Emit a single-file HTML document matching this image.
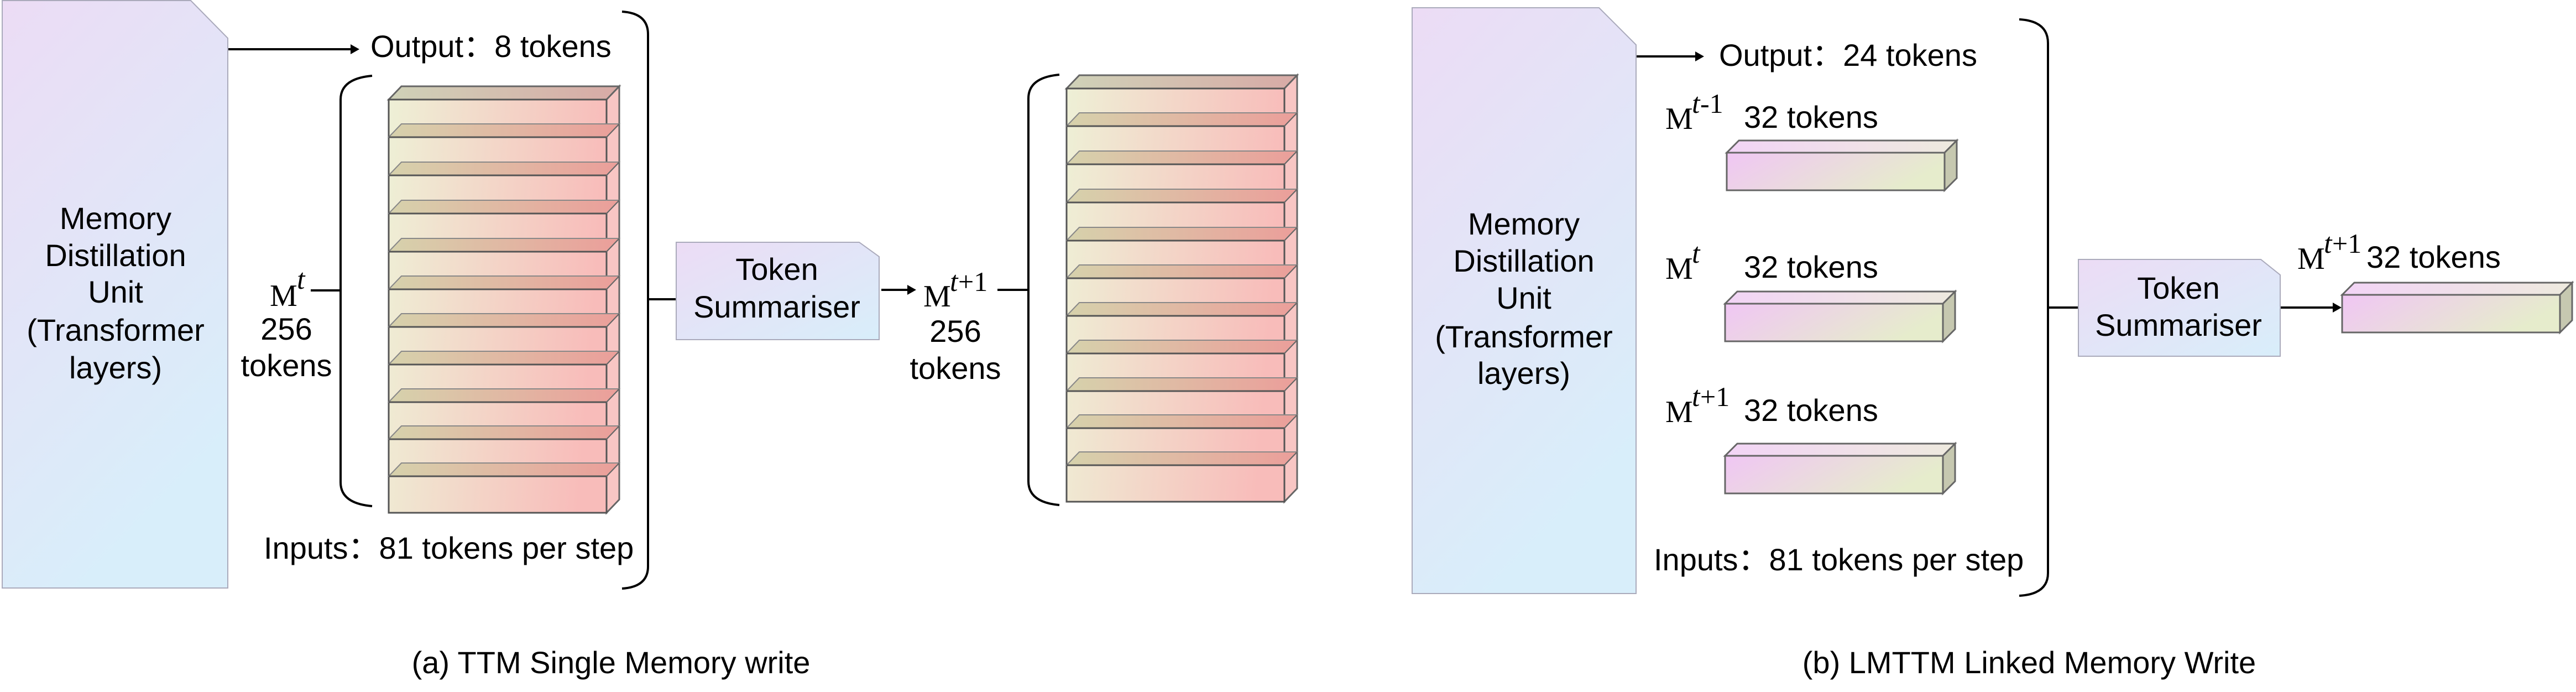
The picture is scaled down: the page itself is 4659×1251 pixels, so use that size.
<!DOCTYPE html>
<html><head><meta charset="utf-8"><style>
html,body{margin:0;padding:0;background:#fff;}
svg{display:block;}
text{font-family:"Liberation Sans","Noto Sans CJK SC",sans-serif;font-size:56px;fill:#000;}
.m{font-family:"Liberation Serif",serif;font-size:56px;}
.s{font-family:"Liberation Serif",serif;font-size:52px;font-style:italic;}
.s2{font-family:"Liberation Serif",serif;font-size:50px;}
</style></head><body>
<svg width="4659" height="1251" viewBox="0 0 4659 1251" xmlns="http://www.w3.org/2000/svg">
<defs>
<linearGradient id="mdu" x1="0" y1="0" x2="0.4" y2="1">
<stop offset="0" stop-color="#ecdcf5"/><stop offset="1" stop-color="#d8eefa"/></linearGradient>
<linearGradient id="ts" x1="0" y1="0" x2="1" y2="1">
<stop offset="0" stop-color="#ecdcf5"/><stop offset="1" stop-color="#d8eefa"/></linearGradient>
<linearGradient id="front" x1="0" y1="0" x2="1" y2="0.15">
<stop offset="0" stop-color="#eef0d6"/><stop offset="1" stop-color="#f8bcba"/></linearGradient>
<linearGradient id="sep" x1="0" y1="0" x2="1" y2="0">
<stop offset="0" stop-color="#d6d2ac"/><stop offset="1" stop-color="#eb9e9a"/></linearGradient>
<linearGradient id="topg" x1="0" y1="0" x2="1" y2="0">
<stop offset="0" stop-color="#cfd2b8"/><stop offset="1" stop-color="#d8aaa6"/></linearGradient>
<linearGradient id="bf" x1="0" y1="0" x2="1" y2="0.3">
<stop offset="0" stop-color="#f0c6f4"/><stop offset="1" stop-color="#e6eccc"/></linearGradient>
<linearGradient id="bt" x1="0" y1="0" x2="1" y2="0">
<stop offset="0" stop-color="#f2d4f6"/><stop offset="1" stop-color="#eeeade"/></linearGradient>
<g id="sp">
<polygon points="0,0 23,-24 417,-24 394,0" fill="url(#sep)" stroke="#888" stroke-width="2"/>
<line x1="0" y1="0" x2="394" y2="0" stroke="#555" stroke-width="3"/>
<line x1="394" y1="0" x2="417" y2="-24" stroke="#666" stroke-width="2"/>
</g>
<g id="stack">
<polygon points="0,0 23,-24 417,-24 394,0" fill="url(#topg)" stroke="#666" stroke-width="3"/>
<polygon points="394,0 417,-24 417,723 394,747" fill="#f8c6c4" stroke="#666" stroke-width="3"/>
<rect x="0" y="0" width="394" height="747" fill="url(#front)" stroke="#555" stroke-width="3"/>
<use href="#sp" y="68"/><use href="#sp" y="137"/><use href="#sp" y="206"/><use href="#sp" y="275"/>
<use href="#sp" y="343"/><use href="#sp" y="411"/><use href="#sp" y="479"/><use href="#sp" y="547"/>
<use href="#sp" y="614"/><use href="#sp" y="681"/>
</g>
<g id="box">
<polygon points="0,0 22,-22 416,-22 394,0" fill="url(#bt)" stroke="#666" stroke-width="3"/>
<polygon points="394,0 416,-22 416,46 394,68" fill="#c6c8b0" stroke="#666" stroke-width="3"/>
<rect x="0" y="0" width="394" height="68" fill="url(#bf)" stroke="#666" stroke-width="3"/>
</g>
</defs>

<!-- (a) -->
<polygon points="4,1 345,1 412,69 412,1063 4,1063" fill="url(#mdu)" stroke="#aab" stroke-width="2"/>
<text x="209" y="414" text-anchor="middle">Memory</text>
<text x="209" y="481" text-anchor="middle">Distillation</text>
<text x="209" y="547" text-anchor="middle">Unit</text>
<text x="209" y="616" text-anchor="middle">(Transformer</text>
<text x="209" y="684" text-anchor="middle">layers)</text>

<line x1="413" y1="89" x2="635" y2="89" stroke="#000" stroke-width="4"/>
<polygon points="650,89 634,80 634,98" fill="#000"/>
<text x="670" y="103">Output：8 tokens</text>

<path d="M1125,21 Q1172,24 1172,62 L1172,1024 Q1172,1061 1125,1064" fill="none" stroke="#000" stroke-width="4"/>
<line x1="1172" y1="541" x2="1223" y2="541" stroke="#000" stroke-width="4"/>

<path d="M673,137 Q616,142 616,180 L616,872 Q616,910 673,915" fill="none" stroke="#000" stroke-width="4"/>
<line x1="562" y1="525" x2="616" y2="525" stroke="#000" stroke-width="4"/>
<text class="m" x="488" y="553">M</text><text class="s" x="537" y="522">t</text>
<text x="518" y="614" text-anchor="middle">256</text>
<text x="518" y="680" text-anchor="middle">tokens</text>

<use href="#stack" x="703" y="180"/>

<text x="477" y="1010">Inputs：81 tokens per step</text>

<polygon points="1223,438 1554,438 1590,464 1590,614 1223,614" fill="url(#ts)" stroke="#aab" stroke-width="2"/>
<text x="1405" y="506" text-anchor="middle">Token</text>
<text x="1405" y="574" text-anchor="middle">Summariser</text>

<line x1="1594" y1="524" x2="1642" y2="524" stroke="#000" stroke-width="4"/>
<polygon points="1657,524 1641,515 1641,533" fill="#000"/>
<text class="m" x="1670" y="554">M</text><text class="s" x="1718" y="526">t</text><text class="s2" x="1733" y="526">+1</text>
<line x1="1804" y1="524" x2="1860" y2="524" stroke="#000" stroke-width="4"/>
<text x="1728" y="618" text-anchor="middle">256</text>
<text x="1728" y="685" text-anchor="middle">tokens</text>

<path d="M1916,135 Q1860,140 1860,178 L1860,870 Q1860,908 1916,913" fill="none" stroke="#000" stroke-width="4"/>
<use href="#stack" x="1929" y="160"/>

<text x="1105" y="1217" text-anchor="middle">(a) TTM Single Memory write</text>

<!-- (b) -->
<polygon points="2554,14 2892,14 2959,81 2959,1073 2554,1073" fill="url(#mdu)" stroke="#aab" stroke-width="2"/>
<text x="2756" y="424" text-anchor="middle">Memory</text>
<text x="2756" y="491" text-anchor="middle">Distillation</text>
<text x="2756" y="558" text-anchor="middle">Unit</text>
<text x="2756" y="628" text-anchor="middle">(Transformer</text>
<text x="2756" y="694" text-anchor="middle">layers)</text>

<line x1="2960" y1="102" x2="3067" y2="102" stroke="#000" stroke-width="4"/>
<polygon points="3082,102 3066,93 3066,111" fill="#000"/>
<text x="3109" y="119">Output：24 tokens</text>

<text class="m" x="3012" y="233">M</text><text class="s" x="3060" y="204">t</text><text class="s2" x="3075" y="204">-1</text>
<text x="3154" y="231">32 tokens</text>
<use href="#box" x="3123" y="276"/>

<text class="m" x="3012" y="504">M</text><text class="s" x="3060" y="475">t</text>
<text x="3154" y="502">32 tokens</text>
<use href="#box" x="3120" y="549"/>

<text class="m" x="3012" y="763">M</text><text class="s" x="3060" y="734">t</text><text class="s2" x="3075" y="734">+1</text>
<text x="3154" y="761">32 tokens</text>
<use href="#box" x="3120" y="824"/>

<text x="2991" y="1031">Inputs：81 tokens per step</text>

<path d="M3652,35 Q3704,38 3704,78 L3704,1036 Q3704,1074 3652,1077" fill="none" stroke="#000" stroke-width="4"/>
<line x1="3704" y1="556" x2="3759" y2="556" stroke="#000" stroke-width="4"/>

<polygon points="3759,469 4089,469 4124,497 4124,644 3759,644" fill="url(#ts)" stroke="#aab" stroke-width="2"/>
<text x="3940" y="540" text-anchor="middle">Token</text>
<text x="3940" y="607" text-anchor="middle">Summariser</text>

<line x1="4125" y1="556" x2="4221" y2="556" stroke="#000" stroke-width="4"/>
<polygon points="4235,556 4219,547 4219,565" fill="#000"/>
<text class="m" x="4155" y="486">M</text><text class="s" x="4203" y="457">t</text><text class="s2" x="4218" y="457">+1</text>
<text x="4280" y="484">32 tokens</text>
<use href="#box" x="4236" y="533"/>

<text x="3670" y="1217" text-anchor="middle">(b) LMTTM Linked Memory Write</text>
</svg>
</body></html>
